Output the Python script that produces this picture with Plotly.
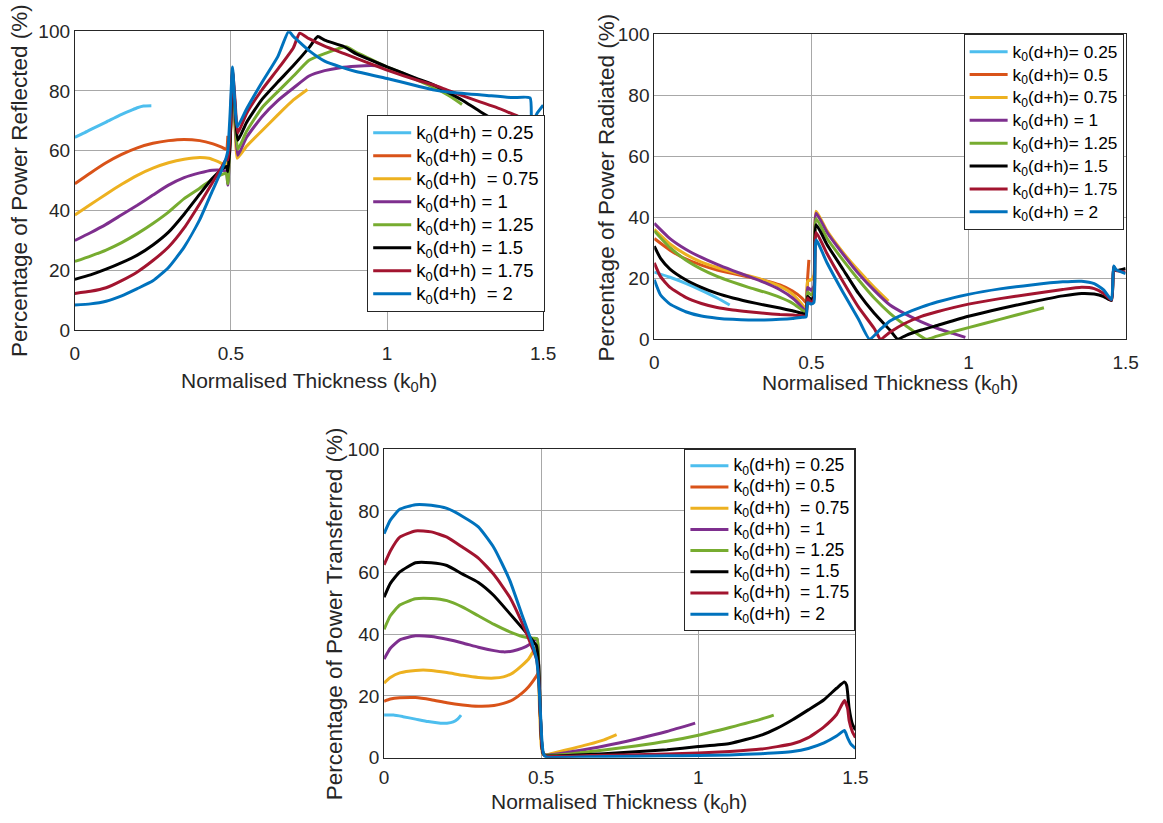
import plotly.graph_objects as go

W, H = 1163, 823
FONT = "Liberation Sans, Arial, sans-serif"

colors = ["#4DBEEE", "#D95319", "#EDB120", "#7E2F8E", "#77AC30", "#000000", "#A2142F", "#0072BD"]

NB = "\u00a0"
K = "k<sub>0</sub>(d+h)"
labels_refl = [K + " = 0.25", K + " = 0.5", K + NB + " = 0.75", K + " = 1",
               K + " = 1.25", K + " = 1.5", K + " = 1.75", K + NB + " = 2"]
labels_rad = [K + "= 0.25", K + "= 0.5", K + "= 0.75", K + " = 1",
              K + "= 1.25", K + "= 1.5", K + "= 1.75", K + " = 2"]
labels_tr = [K + " = 0.25", K + " = 0.5", K + NB + " = 0.75", K + NB + " = 1",
             K + " = 1.25", K + NB + " = 1.5", K + NB + " = 1.75", K + NB + " = 2"]

x_ticks = [0, 0.5, 1, 1.5]
x_ticktext = ["0", "0.5", "1", "1.5"]
y_ticks = [0, 20, 40, 60, 80, 100]

# ---------------- Power Reflected ----------------
R025_x = [0, 0.03, 0.06, 0.1, 0.14, 0.18, 0.2, 0.22, 0.245]
R025_y = [64.5, 66, 67.6, 69.6, 71.7, 73.5, 74.4, 75, 75.1]
R05_x = [0, 0.05, 0.1, 0.15, 0.2, 0.25, 0.3, 0.35, 0.4, 0.44, 0.47, 0.485, 0.49]
R05_y = [49, 52.6, 56, 58.8, 61, 62.5, 63.4, 63.8, 63.4, 62.4, 61.2, 60.5, 65]
R075_x = [0, 0.05, 0.1, 0.15, 0.2, 0.25, 0.3, 0.35, 0.4, 0.43, 0.46, 0.485, 0.492, 0.5, 0.507,
          0.514, 0.52, 0.55, 0.6, 0.65, 0.7, 0.745]
R075_y = [38.5, 42, 45.5, 48.8, 51.8, 54.2, 56, 57.2, 57.8, 57.5, 56.3, 55.2, 58, 68, 76,
          66, 57.5, 61.5, 66.8, 72, 77, 80.5]
R1_x = [0, 0.05, 0.1, 0.15, 0.2, 0.25, 0.3, 0.35, 0.4, 0.44, 0.47, 0.485, 0.49, 0.497, 0.505,
        0.513, 0.522, 0.55, 0.6, 0.65, 0.7, 0.75, 0.8, 0.85, 0.9, 0.95, 0.99]
R1_y = [30, 32.6, 35.4, 38.6, 41.8, 45.2, 48.5, 51, 52.6, 53.5, 53.5, 53, 48.5, 62, 81,
        70, 58.5, 64.5, 71.5, 76.8, 81, 85, 86.8, 87.8, 88.3, 88.5, 88.3]
R125_x = [0, 0.05, 0.1, 0.15, 0.2, 0.25, 0.3, 0.35, 0.4, 0.44, 0.47, 0.485, 0.49, 0.497, 0.505,
          0.513, 0.522, 0.55, 0.6, 0.65, 0.7, 0.75, 0.8, 0.868, 0.9, 0.95, 1.0, 1.05, 1.1,
          1.15, 1.2, 1.24]
R125_y = [23, 24.8, 26.8, 29.3, 32.3, 35.7, 39.5, 44, 47.5, 50.5, 52, 52.5, 49, 63, 85,
          72, 60.5, 66.5, 74.5, 79.8, 85, 90.3, 92.5, 94.8, 93, 90.5, 88, 86, 83.5,
          81.2, 78.3, 75.5]
R15_x = [0, 0.05, 0.1, 0.15, 0.2, 0.25, 0.3, 0.35, 0.4, 0.44, 0.47, 0.485, 0.49, 0.497, 0.505,
         0.513, 0.522, 0.55, 0.6, 0.65, 0.7, 0.75, 0.778, 0.8, 0.863, 0.9, 1.0, 1.1, 1.15,
         1.2, 1.24, 1.3, 1.35, 1.4, 1.455, 1.462, 1.5]
R15_y = [17, 18.5, 20.4, 22.6, 25.1, 28.5, 32.8, 38.8, 45.5, 50.7, 53.7, 54.8, 53, 62, 86,
         75, 63.5, 69.5, 77.3, 83, 88.5, 94.5, 98.2, 97, 94.8, 92.5, 88.1, 84, 82,
         79.3, 77, 73, 70, 67.5, 66, 60, 68]
R175_x = [0, 0.05, 0.1, 0.15, 0.2, 0.25, 0.3, 0.35, 0.4, 0.44, 0.47, 0.485, 0.49, 0.497, 0.505,
          0.513, 0.522, 0.55, 0.6, 0.65, 0.7, 0.72, 0.75, 0.8, 0.863, 0.9, 1.0, 1.1, 1.15,
          1.2, 1.3, 1.35, 1.42, 1.455, 1.462, 1.5]
R175_y = [12.3, 13, 14.2, 16.6, 19.5, 23.3, 27.8, 34.2, 42.3, 49.2, 54.5, 57.2, 57, 66, 87,
          77, 66, 72.5, 80.5, 87.3, 94.5, 99.3, 97.5, 95, 92.5, 91, 87, 83.5, 82,
          80, 76.3, 74.5, 71.5, 70, 60, 67]
R2_x = [0, 0.05, 0.1, 0.15, 0.2, 0.25, 0.3, 0.35, 0.4, 0.44, 0.47, 0.485, 0.49, 0.497, 0.505,
        0.513, 0.52, 0.55, 0.6, 0.65, 0.685, 0.7, 0.724, 0.75, 0.8, 0.853, 0.9, 1.0, 1.1,
        1.152, 1.2, 1.312, 1.4, 1.458, 1.463, 1.48, 1.5]
R2_y = [8.4, 8.8, 9.7, 11.5, 13.9, 16.5, 21, 27.8, 37, 46.5, 53.5, 57.8, 60, 72, 88,
        75, 68, 74, 83, 91.5, 100, 98.2, 95.9, 93.5, 90, 88, 86.5, 84.2, 81.6,
        80.3, 79.6, 78.6, 77.8, 77.7, 69, 72.5, 75.3]

# ---------------- Power Radiated ----------------
P025_x = [0, 0.05, 0.1, 0.15, 0.2, 0.24]
P025_y = [22, 20.3, 18.3, 16, 13.5, 11.2]
P05_x = [0, 0.05, 0.1, 0.15, 0.2, 0.25, 0.3, 0.35, 0.4, 0.44, 0.47, 0.483, 0.488, 0.492]
P05_y = [33, 29.2, 26.3, 24.3, 22.7, 21.5, 20.4, 19.3, 17.8, 15.8, 13.5, 12, 20, 26]
P075_x = [0, 0.05, 0.1, 0.15, 0.2, 0.25, 0.3, 0.35, 0.4, 0.44, 0.47, 0.483, 0.488, 0.5, 0.508,
          0.515, 0.55, 0.6, 0.65, 0.7, 0.745]
P075_y = [36, 31.2, 27.8, 25.3, 23.5, 22, 20.8, 19.3, 17.3, 14.8, 11.5, 9.8, 19, 19.5, 21,
          42, 35.5, 28.5, 22.5, 17, 12.5]
P1_x = [0, 0.05, 0.1, 0.15, 0.2, 0.25, 0.3, 0.35, 0.4, 0.44, 0.47, 0.483, 0.488, 0.5, 0.508,
        0.515, 0.55, 0.6, 0.65, 0.7, 0.75, 0.8, 0.85, 0.9, 0.95, 0.99]
P1_y = [38, 33, 29.5, 26.8, 24.5, 22.5, 20.6, 18.6, 16.2, 13.5, 10.5, 9, 17, 16, 17.5,
        41.3, 35, 28, 21.5, 16, 11.2, 8.2, 5.7, 3.6, 1.9, 0.6]
P125_x = [0, 0.05, 0.1, 0.15, 0.2, 0.25, 0.3, 0.35, 0.4, 0.44, 0.47, 0.483, 0.488, 0.5, 0.508,
          0.515, 0.55, 0.6, 0.65, 0.7, 0.75, 0.8, 0.865, 0.9, 1.0, 1.1, 1.2, 1.24]
P125_y = [35.5, 30, 26, 23, 20.6, 18.7, 17, 15.5, 13.7, 11.8, 9.6, 8.8, 15.5, 14.5, 16,
          39.5, 33, 26, 19.5, 13.5, 8.5, 4.5, 0, 1, 3.8, 6.5, 9.2, 10.3]
P15_x = [0, 0.02, 0.05, 0.1, 0.15, 0.2, 0.25, 0.3, 0.35, 0.4, 0.44, 0.47, 0.483, 0.488, 0.5,
         0.508, 0.515, 0.55, 0.6, 0.65, 0.7, 0.75, 0.775, 0.8, 0.85, 0.9, 1.0, 1.1, 1.2,
         1.3, 1.36, 1.4, 1.43, 1.455, 1.462, 1.47, 1.5]
P15_y = [30.5, 26.5, 23, 19.5, 17, 15, 13.5, 12.3, 11.2, 10.2, 9.3, 8.5, 8.2, 14, 13,
         14, 37.5, 31, 23, 15, 8.5, 3, 0, 1.2, 3, 4.5, 7.5, 10, 12.2,
         14.2, 15, 14.8, 14, 12.7, 23.5, 22.5, 23.2]
P175_x = [0, 0.02, 0.05, 0.1, 0.15, 0.2, 0.25, 0.3, 0.35, 0.4, 0.44, 0.47, 0.483, 0.488, 0.5,
          0.508, 0.515, 0.55, 0.6, 0.65, 0.7, 0.72, 0.75, 0.8, 0.85, 0.9, 1.0, 1.1, 1.2,
          1.3, 1.36, 1.4, 1.43, 1.455, 1.462, 1.47, 1.5]
P175_y = [25, 20.5, 17, 13.7, 11.7, 10.4, 9.6, 9, 8.5, 8.1, 7.9, 7.7, 7.6, 13.5, 12,
          13, 35, 28, 19, 10.5, 3.5, 0, 2.3, 5.3, 7.5, 9, 11.5, 13.3, 14.8,
          16.3, 17, 16.6, 15, 12.8, 23.8, 22.5, 22]
P2_x = [0, 0.02, 0.05, 0.1, 0.15, 0.2, 0.25, 0.3, 0.35, 0.4, 0.44, 0.47, 0.483, 0.488, 0.5,
        0.508, 0.515, 0.55, 0.6, 0.65, 0.685, 0.72, 0.75, 0.8, 0.85, 0.9, 1.0, 1.1, 1.2,
        1.3, 1.36, 1.4, 1.43, 1.455, 1.462, 1.47, 1.5]
P2_y = [19.5, 14.5, 11.5, 9, 7.6, 6.9, 6.5, 6.3, 6.3, 6.5, 6.8, 7.2, 7.3, 12, 11.5,
        12, 32.5, 25, 15.5, 6.5, 0, 3.3, 6, 8.5, 10.5, 12.2, 14.7, 16.5, 17.8,
        18.8, 19, 18.2, 16.2, 13, 24, 22.8, 21.5]

# ---------------- Power Transferred ----------------
T025_x = [0, 0.03, 0.06, 0.1, 0.14, 0.18, 0.2, 0.22, 0.235, 0.245]
T025_y = [13.8, 13.8, 13.3, 12.5, 11.7, 11.2, 11.2, 11.6, 12.6, 13.8]
T05_x = [0, 0.02, 0.05, 0.1, 0.15, 0.2, 0.25, 0.3, 0.35, 0.38, 0.41, 0.44, 0.46, 0.475, 0.485, 0.49]
T05_y = [18.3, 19, 19.4, 19.5, 18.8, 17.8, 17.1, 16.7, 16.9, 17.6, 18.8, 21, 23, 25, 26.5, 27.5]
T075_x = [0, 0.02, 0.05, 0.1, 0.15, 0.2, 0.25, 0.3, 0.35, 0.38, 0.41, 0.44, 0.46, 0.475, 0.485,
          0.49, 0.495, 0.5, 0.505, 0.515, 0.55, 0.6, 0.65, 0.7, 0.74]
T075_y = [24.2, 26, 27.5, 28.3, 28.3, 27.6, 26.7, 26, 25.8, 26.2, 27.5, 30, 32, 34.5, 36,
          30, 15, 4, 1.2, 0.9, 1.8, 3, 4.3, 5.8, 7.5]
T1_x = [0, 0.02, 0.05, 0.1, 0.15, 0.2, 0.25, 0.3, 0.35, 0.38, 0.41, 0.44, 0.46, 0.475, 0.487,
        0.492, 0.497, 0.502, 0.507, 0.515, 0.55, 0.6, 0.7, 0.8, 0.9, 0.99]
T1_y = [32, 35.5, 38.2, 39.5, 39.3, 38.4, 37.2, 35.8, 34.7, 34.3, 34.6, 35.5, 36.5, 37.8, 38.5,
        30, 15, 4, 1.2, 0.9, 1.2, 2, 3.8, 6, 8.5, 11.2]
T125_x = [0, 0.02, 0.05, 0.1, 0.15, 0.2, 0.25, 0.3, 0.35, 0.4, 0.44, 0.46, 0.475, 0.487, 0.492,
          0.497, 0.502, 0.507, 0.515, 0.6, 0.7, 0.8, 0.9, 1.0, 1.1, 1.2, 1.24]
T125_y = [41.6, 46, 49.5, 51.5, 51.6, 50.9, 48.8, 46, 43.2, 40.8, 39.3, 38.9, 38.7, 38.5, 30,
          15, 4, 1.2, 0.8, 1.3, 2.5, 3.8, 5.3, 7.3, 9.8, 12.5, 13.8]
T15_x = [0, 0.02, 0.05, 0.1, 0.15, 0.2, 0.25, 0.3, 0.35, 0.4, 0.44, 0.47, 0.485, 0.492, 0.497,
         0.502, 0.507, 0.515, 0.6, 0.7, 0.8, 0.9, 1.0, 1.1, 1.2, 1.25, 1.3, 1.35, 1.4,
         1.44, 1.465, 1.472, 1.48, 1.49, 1.5]
T15_y = [52, 56.5, 60.2, 63.2, 63.2, 62.3, 59.5, 56.8, 52.5, 46.7, 42, 38.3, 36.3, 30, 15,
         4, 1.2, 0.6, 0.8, 1.3, 1.9, 2.6, 3.6, 4.6, 7.3, 9.5, 12.3, 15.5, 18.8,
         22.5, 24.5, 23.5, 16, 11, 9]
T175_x = [0, 0.02, 0.05, 0.1, 0.15, 0.2, 0.25, 0.3, 0.35, 0.4, 0.44, 0.47, 0.485, 0.492, 0.497,
          0.502, 0.507, 0.515, 0.7, 0.9, 1.0, 1.1, 1.2, 1.3, 1.35, 1.4, 1.44, 1.465, 1.475,
          1.48, 1.49, 1.5]
T175_y = [62.5, 67, 71.5, 73.5, 73.2, 71.5, 68.2, 64.7, 59.3, 52, 43.5, 36, 32, 26, 14,
          4, 1.2, 0.5, 0.8, 1.2, 1.5, 2, 2.8, 4.5, 6.5, 10, 14, 18.5, 16,
          12, 8.5, 6.5]
T2_x = [0, 0.02, 0.05, 0.1, 0.15, 0.2, 0.25, 0.3, 0.35, 0.4, 0.44, 0.47, 0.485, 0.492, 0.497,
        0.502, 0.507, 0.515, 0.7, 0.9, 1.0, 1.1, 1.2, 1.3, 1.35, 1.4, 1.44, 1.465, 1.475,
        1.485, 1.5]
T2_y = [72.6, 77, 80.5, 82, 81.8, 80.8, 78.2, 74.8, 68, 57.5, 46, 37.5, 32, 25, 16,
        6, 1.4, 0.3, 0.4, 0.6, 0.7, 0.9, 1.3, 2, 3, 4.8, 7, 8.8, 6.5,
        4.5, 3]

refl = [(R025_x, R025_y), (R05_x, R05_y), (R075_x, R075_y), (R1_x, R1_y),
        (R125_x, R125_y), (R15_x, R15_y), (R175_x, R175_y), (R2_x, R2_y)]
rad = [(P025_x, P025_y), (P05_x, P05_y), (P075_x, P075_y), (P1_x, P1_y),
       (P125_x, P125_y), (P15_x, P15_y), (P175_x, P175_y), (P2_x, P2_y)]
tr = [(T025_x, T025_y), (T05_x, T05_y), (T075_x, T075_y), (T1_x, T1_y),
      (T125_x, T125_y), (T15_x, T15_y), (T175_x, T175_y), (T2_x, T2_y)]

# legend text rendered size (px) per panel; the declared legend font sets row spacing
leg_text_px = [18.5, 17.3, 17.5]
leg_row_font = [15.4, 15.3, 14.0]

fig = go.Figure()
panels = [(refl, labels_refl, "x", "y", "legend"),
          (rad, labels_rad, "x2", "y2", "legend2"),
          (tr, labels_tr, "x3", "y3", "legend3")]
for p, (data, labels, xa, ya, lg) in enumerate(panels):
    for i, (xs, ys) in enumerate(data):
        name = "<span style='font-size:%spx'>%s</span>" % (leg_text_px[p], labels[i])
        fig.add_trace(go.Scatter(x=xs, y=ys, mode="lines", name=name,
                                 line=dict(color=colors[i], width=3.0, shape="spline", smoothing=0.5),
                                 xaxis=xa, yaxis=ya, legend=lg))


# page-pixel positions -> paper fractions (compensating the capture's offset/scale)
def fx(p):
    return ((p - 4.2) / 0.9838) / W


def fy(p):
    return 1 - ((p - 9.8) / 0.9745) / H


TICKC = "#262626"
ax_common = dict(showline=True, linecolor=TICKC, linewidth=1, mirror=True,
                 showgrid=True, gridcolor="#a8a8a8", gridwidth=1, zeroline=False,
                 ticks="", tickfont=dict(size=19, color=TICKC, family=FONT))


def xax(l, r, anchor, standoff=6):
    return dict(ax_common, domain=[fx(l), fx(r)], range=[0, 1.5], tickvals=x_ticks,
                ticktext=x_ticktext, anchor=anchor, ticklabelstandoff=standoff)


def yax(t, b, anchor):
    return dict(ax_common, domain=[fy(b), fy(t)], range=[0, 100], tickvals=y_ticks,
                anchor=anchor, ticklabelstandoff=0)


leg_common = dict(bgcolor="white", bordercolor=TICKC, borderwidth=1,
                  xanchor="right", yanchor="top", tracegroupgap=0, itemwidth=38)

XT_FONT = dict(size=21, color=TICKC, family=FONT)
YT_FONT = dict(size=22.5, color=TICKC, family=FONT)
XT = "Normalised Thickness (k<sub>0</sub>h)"
annots = [
    dict(text=XT, x=fx(308), y=fy(382), font=XT_FONT),
    dict(text="Percentage of Power Reflected (%)", x=fx(18), y=fy(180), textangle=-90, font=YT_FONT),
    dict(text=XT, x=fx(889), y=fy(384), font=XT_FONT),
    dict(text="Percentage of Power Radiated (%)", x=fx(605), y=fy(187), textangle=-90, font=YT_FONT),
    dict(text=XT, x=fx(618), y=fy(803), font=XT_FONT),
    dict(text="Percentage of Power Transferred (%)", x=fx(333), y=fy(614), textangle=-90, font=YT_FONT),
]
for a in annots:
    a.update(xref="paper", yref="paper", xanchor="center", yanchor="middle", showarrow=False)

fig.update_layout(
    width=W, height=H, autosize=False,
    margin=dict(l=0, r=0, t=0, b=0),
    paper_bgcolor="white", plot_bgcolor="white",
    font=dict(family=FONT, color=TICKC),
    xaxis=xax(74, 542, "y"), yaxis=yax(31, 330, "x"),
    xaxis2=xax(653, 1124, "y2"), yaxis2=yax(34, 339, "x2"),
    xaxis3=xax(383, 854, "y3", standoff=3), yaxis3=yax(449, 757.5, "x3"),
    legend=dict(leg_common, x=fx(544), y=fy(115),
                font=dict(size=leg_row_font[0], family=FONT, color="black")),
    legend2=dict(leg_common, x=fx(1122), y=fy(34),
                 font=dict(size=leg_row_font[1], family=FONT, color="black")),
    legend3=dict(leg_common, x=fx(854), y=fy(449),
                 font=dict(size=leg_row_font[2], family=FONT, color="black")),
    annotations=annots,
    showlegend=True,
)

fig.write_html("out.html",
               post_script="document.body.style.margin='0px';"
                           "document.documentElement.style.overflow='hidden';")
